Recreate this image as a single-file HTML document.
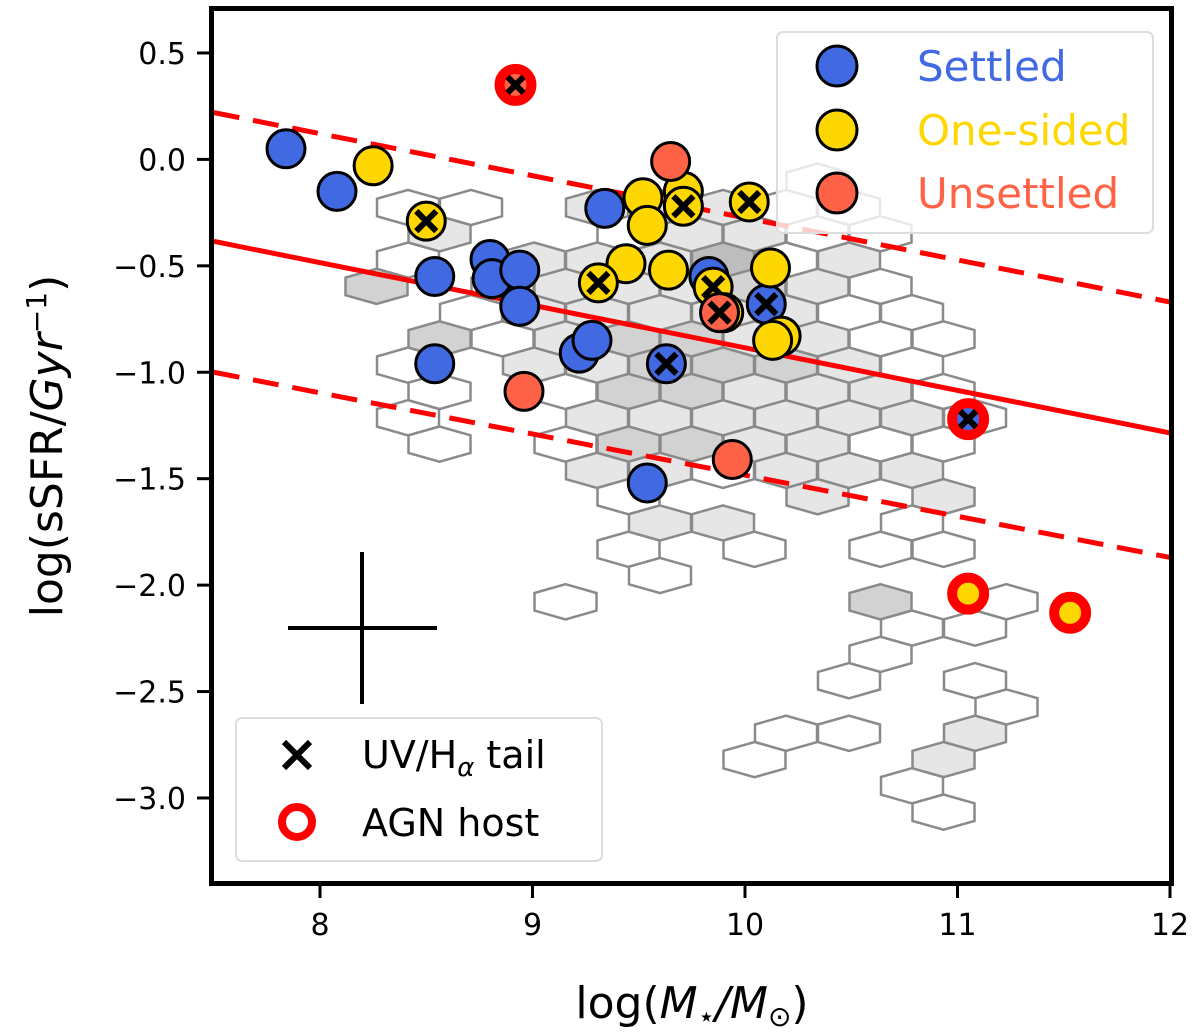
<!DOCTYPE html>
<html><head><meta charset="utf-8"><style>
body{margin:0;background:#fff;}
svg{display:block;font-family:"DejaVu Sans","Liberation Sans",sans-serif;}
</style></head><body>
<svg id="chart" width="1200" height="1032" viewBox="0 0 1200 1032" xmlns="http://www.w3.org/2000/svg">
<g id="hexes"></g>
<g id="lines"></g>
<g id="points"></g>
<g id="axes"></g>
<g id="legend1">
  <rect x="777" y="32" width="376" height="201" rx="6" fill="#fff" fill-opacity="0.8" stroke="#ddd" stroke-width="2"/>
  <circle cx="837" cy="66" r="20" fill="#4169e1" stroke="#000" stroke-width="3"/>
  <text x="917" y="81" font-size="42" fill="#4169e1">Settled</text>
  <circle cx="837" cy="130" r="20" fill="#ffd700" stroke="#000" stroke-width="3"/>
  <text x="917" y="145" font-size="42" fill="#ffd700">One-sided</text>
  <circle cx="837" cy="193" r="20" fill="#ff6347" stroke="#000" stroke-width="3"/>
  <text x="917" y="208" font-size="42" fill="#ff6347">Unsettled</text>
</g>
<g id="legend2">
  <rect x="236" y="718" width="366" height="143" rx="6" fill="#fff" fill-opacity="0.8" stroke="#ddd" stroke-width="2"/>
  <path d="M284 742 L310 768 M310 742 L284 768" stroke="#000" stroke-width="6"/>
  <text x="362" y="768" font-size="38" fill="#000">UV/H<tspan font-size="26" font-style="italic" dy="8">α</tspan><tspan dy="-8"> tail</tspan></text>
  <circle cx="297" cy="822" r="15" fill="#fff" stroke="#ff0000" stroke-width="8"/>
  <text x="362" y="836" font-size="38" fill="#000">AGN host</text>
</g>
<g stroke="#000" stroke-width="4">
  <line x1="362" y1="552" x2="362" y2="704"/>
  <line x1="288" y1="628" x2="437" y2="628"/>
</g>
<text x="692" y="1018" font-size="44" text-anchor="middle">log(<tspan font-style="italic">M</tspan><tspan font-size="28" dy="8">⋆</tspan><tspan dy="-8" font-style="italic">/M</tspan><tspan font-size="28" dy="8">⊙</tspan><tspan dy="-8">)</tspan></text>
<text transform="translate(62,446) rotate(-90)" font-size="44" text-anchor="middle">log(sSFR/<tspan font-style="italic">Gyr</tspan><tspan font-size="28" dy="-16">−1</tspan><tspan dy="16">)</tspan></text>
</svg>
<script>
// axis definitions
const xTicks = [8, 9, 10, 11, 12];
const yTicks = [0.5, 0.0, -0.5, -1.0, -1.5, -2.0, -2.5, -3.0];
const yTickLabels = ["0.5", "0.0", "\u22120.5", "\u22121.0", "\u22121.5", "\u22122.0", "\u22122.5", "\u22123.0"];
const xDomain = [7.5, 12.0];
// hexbin grid (data units): column/row indices and density level
const hexX0 = 9.6, hexDX = 0.2965, hexY0 = -1.708, hexDY = 0.1235;
const hexRow = [13,
 12,12,12,12,12,12,12,
 11,11,11,11,11,11,
 10,10,10,10,10,10,10,
 9,9,9,9,9,9,9,9,
 8,8,8,8,8,8,8,8,
 7,7,7,7,7,7,7,7,7,
 6,6,6,6,6,6,6,6,
 5,5,5,5,5,5,5,5,
 4,4,4,4,4,4,4,4,
 3,3,3,3,3,3,3,3,
 2,2,2,2,2,2,
 1,1,1,
 0,0,0,
 -1,-1,-1,-1,
 -2,
 -3,-3,-3,
 -4,-4,
 -5,
 -6,-6,
 -7,
 -8,-8,-8,
 -9,-9,
 -10,
 -11];
const hexCol = [3,
 -4,-3,-1,0,1,2,3,
 -3,0,1,2,3,4,
 -4,-2,-1,0,1,2,3,
 -4,-2,-1,0,1,2,3,4,
 -3,-2,-1,0,1,2,3,4,
 -3,-2,-1,0,1,2,3,4,5,
 -4,-2,-1,0,1,2,3,4,
 -3,-1,0,1,2,3,4,5,
 -4,-1,0,1,2,3,4,5,
 -3,-1,0,1,2,3,4,5,
 -1,0,1,2,3,4,
 0,3,5,
 0,1,4,
 0,2,4,5,
 0,
 -1,4,6,
 4,5,
 4,
 3,5,
 6,
 2,3,5,
 2,5,
 4,
 5];
const hexLevel = [0,
 0,0,1,1,1,0,0,
 1,0,1,1,0,0,
 0,1,1,1,3,0,1,
 2,0,1,1,1,2,1,0,
 0,1,1,1,1,1,0,0,
 2,0,1,2,2,1,1,0,0,
 0,1,1,2,2,2,1,0,
 0,0,2,2,1,1,1,0,
 0,1,1,1,1,1,1,0,
 0,0,2,2,1,1,0,0,
 1,1,0,1,1,1,
 0,1,1,
 1,1,0,
 0,0,0,0,
 0,
 0,2,0,
 0,0,
 0,
 0,0,
 0,
 0,0,1,
 0,1,
 0,
 0];
// fit lines: [x0, y0, x1, y1] in data units
const fitSolid = [7.5, -0.385, 12.0, -1.285];
const fitUpper = [7.5, 0.22, 12.0, -0.67];
const fitLower = [7.5, -1.0, 12.0, -1.87];
// galaxies
const ptX = [7.84,8.08,9.34,8.54,8.80,8.81,8.94,8.94,8.54,9.22,9.28,9.63,9.83,10.10,9.54,
             8.25,8.50,9.52,9.71,9.71,9.54,10.02,9.44,9.31,9.64,9.85,10.12,9.90,10.17,10.13,
             9.65,8.96,9.94,9.88];
const ptY = [0.05,-0.15,-0.23,-0.55,-0.47,-0.56,-0.52,-0.69,-0.96,-0.91,-0.85,-0.96,-0.55,-0.68,-1.52,
             -0.03,-0.29,-0.18,-0.15,-0.22,-0.31,-0.20,-0.49,-0.58,-0.52,-0.60,-0.51,-0.72,-0.83,-0.85,
             -0.01,-1.09,-1.41,-0.72];
const ptClass = ["S","S","S","S","S","S","S","S","S","S","S","S","S","S","S",
                 "O","O","O","O","O","O","O","O","O","O","O","O","O","O","O",
                 "U","U","U","U"];
const ptTail = [0,0,0,0,0,0,0,0,0,0,0,1,0,1,0, 0,1,0,0,1,0,1,0,1,0,1,0,1,0,0, 0,0,0,1];
// AGN hosts
const agnX = [8.92, 11.05, 11.05, 11.53];
const agnY = [0.35, -1.22, -2.04, -2.13];
const agnClass = ["U","S","O","O"];
const agnTail = [1,1,0,0];

const PX0=213.75, PX1=1170, PY0=159.4, PYU=212.86;
const xs = v => PX0 + (v - xDomain[0]) * (PX1 - PX0) / (xDomain[1] - xDomain[0]);
const ys = v => PY0 - v * PYU;
const NS="http://www.w3.org/2000/svg";
const colors={S:"#4169e1",O:"#ffd700",U:"#ff6347"};
const shade=["#ffffff","#e6e6e6","#d2d2d2","#bdbdbd","#9c9c9c"];
function mk(tag,attrs,parent){const e=document.createElementNS(NS,tag);for(const k in attrs)e.setAttribute(k,attrs[k]);parent.appendChild(e);return e;}

const gh=document.getElementById('hexes');
function hex(c,r,l){
  const odd = ((r%2)+2)%2===1;
  const cx = xs(hexX0 + (c + (odd?-0.5:0))*hexDX);
  const cy = ys(hexY0 + r*hexDY);
  const w=31, h=17.6;
  const pts=[[0,-h],[w,-h/2],[w,h/2],[0,h],[-w,h/2],[-w,-h/2]].map(p=>(cx+p[0]).toFixed(1)+','+(cy+p[1]).toFixed(1)).join(' ');
  const p=mk('polygon',{points:pts,fill:shade[l],stroke:'#8a8a8a','stroke-width':2.5},gh);
  
  
}
hexCol.forEach((c,i)=>hex(c,hexRow[i],hexLevel[i]));

const gl=document.getElementById('lines');
function fl(a,dash,name){
  const l=mk('line',{x1:xs(a[0]),y1:ys(a[1]),x2:xs(a[2]),y2:ys(a[3]),stroke:'#ff0000','stroke-width':5},gl);
  if(dash) l.setAttribute('stroke-dasharray','26 14');
  
  
}
fl(fitSolid,false,'fit-line');fl(fitUpper,true,'upper-scatter-line');fl(fitLower,true,'lower-scatter-line');

const gp=document.getElementById('points');
function cross(cx,cy,s,g){
  const p=mk('path',{d:`M${cx-s} ${cy-s} L${cx+s} ${cy+s} M${cx+s} ${cy-s} L${cx-s} ${cy+s}`,stroke:'#000','stroke-width':6},g);
  
  
}
ptX.forEach((x,i)=>{
  const cx=xs(x), cy=ys(ptY[i]);
  const c=mk('circle',{cx:cx,cy:cy,r:19,fill:colors[ptClass[i]],stroke:'#000','stroke-width':3},gp);
  
  
  if(ptTail[i]) cross(cx,cy,10,gp);
});
agnX.forEach((x,i)=>{
  const cx=xs(x), cy=ys(agnY[i]);
  const c=mk('circle',{cx:cx,cy:cy,r:16,fill:colors[agnClass[i]],stroke:'#ff0000','stroke-width':10},gp);
  
  
  if(agnTail[i]) cross(cx,cy,8,gp);
});

const ga=document.getElementById('axes');
const fr=mk('rect',{x:211.5,y:8.5,width:960,height:875,fill:'none',stroke:'#000','stroke-width':5},ga);


xTicks.forEach(t=>{
  const x=xs(t);
  const l=mk('line',{x1:x,y1:886,x2:x,y2:898,stroke:'#000','stroke-width':3},ga);
  
  
  const tx=mk('text',{x:x,y:935,'font-size':30,'text-anchor':'middle'},ga);
  tx.textContent=t;
  
  
});
yTicks.forEach((t,i)=>{
  const y=ys(t);
  const l=mk('line',{x1:197,y1:y,x2:209,y2:y,stroke:'#000','stroke-width':3},ga);
  
  
  const tx=mk('text',{x:186,y:y+11,'font-size':30,'text-anchor':'end'},ga);
  tx.textContent=yTickLabels[i];
  
  
});
</script>
</body></html>
